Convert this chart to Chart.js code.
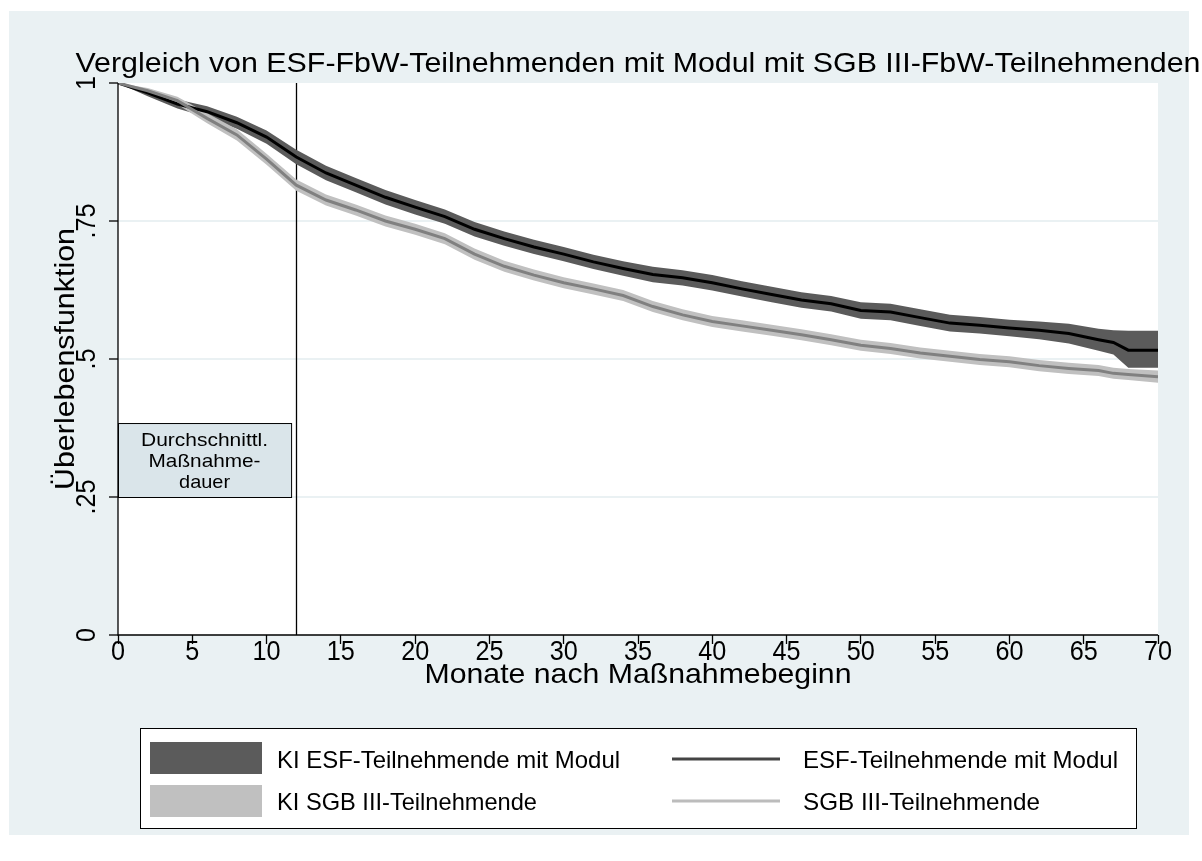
<!DOCTYPE html>
<html>
<head>
<meta charset="utf-8">
<script src="https://cdn.jsdelivr.net/npm/chart.js@4.4.1/dist/chart.umd.min.js"></script>
<style>
  html, body { margin: 0; padding: 0; background: #fff; }
  #wrap { width: 1202px; height: 861px; }
</style>
</head>
<body>
<div id="wrap"><canvas id="myChart"></canvas></div>
<script>
var months = [0, 2, 4, 6, 8, 10, 12, 14, 16, 18, 20, 22, 24, 26, 28, 30, 32, 34, 36, 38, 40, 42, 44, 46, 48, 50, 52, 54, 56, 58, 60, 62, 64, 66, 67, 68, 70];

var esfValues = [1.000, 0.982, 0.962, 0.948, 0.928, 0.902, 0.866, 0.837, 0.815, 0.793, 0.775, 0.758, 0.735, 0.718, 0.703, 0.690, 0.676, 0.664, 0.653, 0.647, 0.638, 0.627, 0.617, 0.607, 0.600, 0.588, 0.585, 0.575, 0.565, 0.561, 0.556, 0.552, 0.546, 0.535, 0.530, 0.516, 0.516];
var esfLower = [1.000, 0.976, 0.954, 0.938, 0.917, 0.890, 0.853, 0.824, 0.802, 0.780, 0.762, 0.745, 0.722, 0.705, 0.690, 0.677, 0.663, 0.651, 0.639, 0.633, 0.624, 0.613, 0.603, 0.593, 0.586, 0.573, 0.570, 0.560, 0.550, 0.546, 0.541, 0.536, 0.528, 0.515, 0.508, 0.484, 0.484];
var esfUpper = [1.000, 0.988, 0.970, 0.958, 0.939, 0.914, 0.879, 0.850, 0.828, 0.806, 0.788, 0.771, 0.748, 0.731, 0.716, 0.703, 0.689, 0.677, 0.667, 0.661, 0.652, 0.641, 0.631, 0.621, 0.614, 0.603, 0.600, 0.590, 0.580, 0.576, 0.571, 0.568, 0.564, 0.555, 0.552, 0.551, 0.551];

var sgbValues = [1.000, 0.986, 0.968, 0.936, 0.906, 0.862, 0.815, 0.788, 0.770, 0.750, 0.735, 0.718, 0.690, 0.668, 0.652, 0.638, 0.627, 0.615, 0.595, 0.580, 0.568, 0.560, 0.552, 0.544, 0.535, 0.525, 0.519, 0.511, 0.505, 0.499, 0.495, 0.488, 0.483, 0.479, 0.474, 0.472, 0.468];
var sgbLower = [1.000, 0.981, 0.961, 0.927, 0.896, 0.852, 0.805, 0.778, 0.760, 0.740, 0.725, 0.708, 0.680, 0.658, 0.642, 0.628, 0.617, 0.605, 0.585, 0.570, 0.558, 0.550, 0.542, 0.534, 0.525, 0.515, 0.509, 0.501, 0.495, 0.489, 0.485, 0.478, 0.473, 0.469, 0.464, 0.462, 0.457];
var sgbUpper = [1.000, 0.991, 0.975, 0.945, 0.916, 0.872, 0.825, 0.798, 0.780, 0.760, 0.745, 0.728, 0.700, 0.678, 0.662, 0.648, 0.637, 0.625, 0.605, 0.590, 0.578, 0.570, 0.562, 0.554, 0.545, 0.535, 0.529, 0.521, 0.515, 0.509, 0.505, 0.498, 0.493, 0.489, 0.484, 0.482, 0.479];

var xTicks = [0, 5, 10, 15, 20, 25, 30, 35, 40, 45, 50, 55, 60, 65, 70];
var yTicks = [0, 0.25, 0.5, 0.75, 1];
var yTickLabels = ['0', '.25', '.5', '.75', '1'];

var chartTitle = 'Vergleich von ESF-FbW-Teilnehmenden mit Modul mit SGB III-FbW-Teilnehmenden';
var xTitle = 'Monate nach Maßnahmebeginn';
var yTitle = 'Überlebensfunktion';
var avgDuration = 12;
var boxLines = ['Durchschnittl.', 'Maßnahme-', 'dauer'];
var legendLabels = ['KI ESF-Teilnehmende mit Modul', 'KI SGB III-Teilnehmende', 'ESF-Teilnehmende mit Modul', 'SGB III-Teilnehmende'];

var FONT = '"Liberation Sans", Arial, Helvetica, sans-serif';
var PANEL = '#eaf1f3';
var DARK = '#5b5b5b';
var LIGHT = '#c0c0c0';

function toPoints(vals) {
    var pts = [];
    for (var i = 0; i < months.length; i++) {
        pts.push({ x: months[i], y: vals[i] });
    }
    return pts;
}

// draws text; w = target width in px, or f = horizontal squeeze factor
function drawText(ctx, s, x, y, size, w, align, rot, f) {
    ctx.save();
    ctx.font = size + 'px ' + FONT;
    ctx.fillStyle = '#000';
    ctx.textAlign = align || 'center';
    ctx.textBaseline = 'alphabetic';
    var k = w ? w / ctx.measureText(s).width : (f || 1);
    ctx.translate(x, y);
    if (rot) ctx.rotate(rot);
    ctx.scale(k, 1);
    ctx.fillText(s, 0, 0);
    ctx.restore();
}

var decoPlugin = {
    id: 'deco',
    beforeDraw: function (chart) {
        var ctx = chart.ctx;
        var a = chart.chartArea;
        ctx.save();
        ctx.fillStyle = '#fff';
        ctx.fillRect(0, 0, chart.width, chart.height);
        ctx.fillStyle = PANEL;
        ctx.fillRect(9, 11, 1180, 824);
        ctx.fillStyle = '#fff';
        ctx.fillRect(a.left, a.top, a.right - a.left, a.bottom - a.top);
        ctx.restore();
    },
    beforeDatasetsDraw: function (chart) {
        var ctx = chart.ctx;
        var xs = chart.scales.x;
        var ys = chart.scales.y;
        var a = chart.chartArea;
        ctx.save();
        // annotation box for average duration
        var bx0 = xs.getPixelForValue(0);
        var bx1 = xs.getPixelForValue(11.65);
        var by0 = ys.getPixelForValue(0.384);
        var by1 = ys.getPixelForValue(0.25);
        ctx.fillStyle = '#dae5ea';
        ctx.fillRect(bx0, by0, bx1 - bx0, by1 - by0);
        ctx.strokeStyle = '#000';
        ctx.lineWidth = 1;
        ctx.strokeRect(bx0 + 0.5, by0 + 0.5, bx1 - bx0, by1 - by0);
        var cx = (bx0 + bx1) / 2;
        drawText(ctx, boxLines[0], cx, by0 + 23, 19, 127);
        drawText(ctx, boxLines[1], cx, by0 + 44, 19, 112);
        drawText(ctx, boxLines[2], cx, by0 + 65, 19, 51);
        // vertical line at average duration
        var vx = Math.round(xs.getPixelForValue(avgDuration)) + 0.5;
        ctx.beginPath();
        ctx.moveTo(vx, a.top);
        ctx.lineTo(vx, a.bottom);
        ctx.lineWidth = 1.3;
        ctx.strokeStyle = '#000';
        ctx.stroke();
        ctx.restore();
    },
    afterDraw: function (chart) {
        var ctx = chart.ctx;
        var xs = chart.scales.x;
        var ys = chart.scales.y;
        var a = chart.chartArea;
        var midX = (a.left + a.right) / 2;
        var midY = (a.top + a.bottom) / 2;
        // axis lines
        ctx.save();
        ctx.strokeStyle = '#000';
        ctx.lineWidth = 1.3;
        ctx.beginPath();
        ctx.moveTo(a.left, a.top);
        ctx.lineTo(a.left, a.bottom);
        ctx.lineTo(a.right, a.bottom);
        ctx.stroke();
        ctx.restore();

        drawText(ctx, chartTitle, midX, 72, 28, 1125);
        for (var i = 0; i < xTicks.length; i++) {
            drawText(ctx, String(xTicks[i]), xs.getPixelForValue(xTicks[i]), 660, 28, null, 'center', 0, 0.9);
        }
        drawText(ctx, xTitle, midX, 683, 28, 427);
        for (var j = 0; j < yTicks.length; j++) {
            drawText(ctx, yTickLabels[j], 95, ys.getPixelForValue(yTicks[j]), 28, null, 'center', -Math.PI / 2, 0.9);
        }
        drawText(ctx, yTitle, 74, midY, 28, 262, 'center', -Math.PI / 2);

        // legend
        ctx.save();
        ctx.fillStyle = '#fff';
        ctx.fillRect(140, 728, 996, 100);
        ctx.strokeStyle = '#000';
        ctx.lineWidth = 1;
        ctx.strokeRect(140.5, 728.5, 996, 100);
        ctx.fillStyle = DARK;
        ctx.fillRect(150, 742, 112, 32);
        ctx.fillStyle = LIGHT;
        ctx.fillRect(150, 785, 112, 32);
        ctx.lineWidth = 3;
        ctx.strokeStyle = '#444';
        ctx.beginPath();
        ctx.moveTo(672, 759);
        ctx.lineTo(780, 759);
        ctx.stroke();
        ctx.strokeStyle = '#bcbcbc';
        ctx.beginPath();
        ctx.moveTo(672, 801);
        ctx.lineTo(780, 801);
        ctx.stroke();
        ctx.restore();
        drawText(ctx, legendLabels[0], 277, 768, 24, 343, 'left');
        drawText(ctx, legendLabels[1], 277, 810, 24, 260, 'left');
        drawText(ctx, legendLabels[2], 803, 768, 24, 315, 'left');
        drawText(ctx, legendLabels[3], 803, 810, 24, 237, 'left');
    }
};

var ctx = document.getElementById('myChart').getContext('2d');
var myChart = new Chart(ctx, {
    type: 'line',
    data: {
        datasets: [
            { label: 'SGB III-Teilnehmende', data: toPoints(sgbValues), borderColor: '#808080', borderWidth: 3, pointRadius: 0, fill: false, order: 0 },
            { label: 'ESF-Teilnehmende mit Modul', data: toPoints(esfValues), borderColor: '#000', borderWidth: 3, pointRadius: 0, fill: false, order: 1 },
            { label: 'KI SGB III hi', data: toPoints(sgbUpper), borderWidth: 0, borderColor: LIGHT, backgroundColor: LIGHT, pointRadius: 0, fill: '+1', order: 2 },
            { label: 'KI SGB III lo', data: toPoints(sgbLower), borderWidth: 0, borderColor: LIGHT, pointRadius: 0, fill: false, order: 2 },
            { label: 'KI ESF hi', data: toPoints(esfUpper), borderWidth: 0, borderColor: DARK, backgroundColor: DARK, pointRadius: 0, fill: '+1', order: 3 },
            { label: 'KI ESF lo', data: toPoints(esfLower), borderWidth: 0, borderColor: DARK, pointRadius: 0, fill: false, order: 3 }
        ]
    },
    options: {
        responsive: true,
        maintainAspectRatio: false,
        animation: false,
        events: [],
        layout: { padding: { left: 109, right: 44, top: 83, bottom: 217 } },
        plugins: {
            legend: { display: false },
            tooltip: { enabled: false },
            filler: { propagate: false }
        },
        scales: {
            x: {
                type: 'linear',
                min: 0,
                max: 70,
                afterBuildTicks: function (axis) {
                    axis.ticks = xTicks.map(function (v) { return { value: v }; });
                },
                ticks: { display: false },
                border: { display: false },
                grid: { drawOnChartArea: false, drawTicks: true, tickLength: 9, tickColor: '#000', tickWidth: 1.3 }
            },
            y: {
                type: 'linear',
                min: 0,
                max: 1,
                afterBuildTicks: function (axis) {
                    axis.ticks = yTicks.map(function (v) { return { value: v }; });
                },
                ticks: { display: false },
                border: { display: false },
                grid: {
                    drawTicks: true,
                    tickLength: 9,
                    tickColor: '#000',
                    tickWidth: 1.3,
                    lineWidth: 2,
                    color: function (c) {
                        if (!c.tick || c.tick.value === 0 || c.tick.value === 1) return 'rgba(0,0,0,0)';
                        return PANEL;
                    }
                }
            }
        }
    },
    plugins: [decoPlugin]
});
</script>
</body>
</html>
